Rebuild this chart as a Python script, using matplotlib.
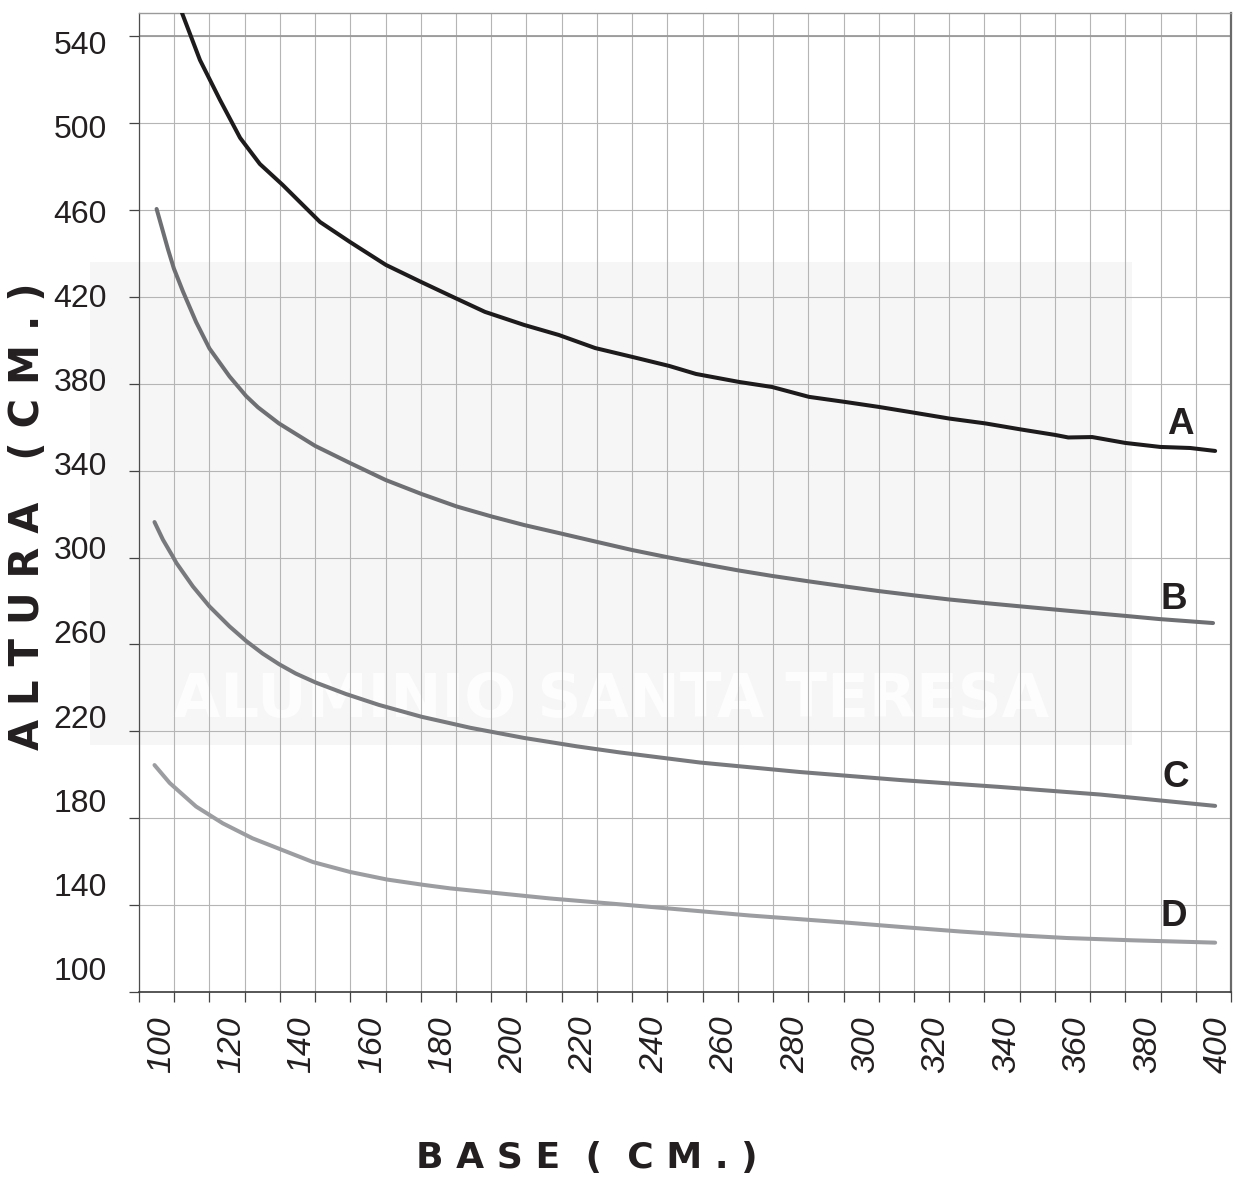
import matplotlib
matplotlib.use("Agg")
import matplotlib.pyplot as plt
import numpy as np
from matplotlib.patches import Rectangle

# ---------------- data ----------------
x_ticks = [100, 120, 140, 160, 180, 200, 220, 240, 260, 280, 300, 320, 340, 360, 380, 400]
y_ticks = [100, 140, 180, 220, 260, 300, 340, 380, 420, 460, 500, 540]

a_x = [105.9, 111.0, 116.7, 122.4, 128.0, 134.5, 145.1, 153.6, 163.8, 173.8, 182.8, 191.9,
       203.0, 212.9, 223.2, 233.7, 244.2, 251.8, 264.0, 273.4, 283.9, 294.1, 303.8, 314.0,
       323.7, 333.9, 344.1, 353.8, 357.5, 364.3, 373.7, 383.6, 392.1, 399.2]
a_y = [554.2, 531.8, 512.8, 494.8, 482.4, 472.4, 454.8, 445.3, 434.4, 426.3, 419.2, 412.1,
       405.9, 401.1, 394.9, 390.7, 386.4, 382.6, 378.8, 376.4, 371.7, 369.3, 366.9, 364.1,
       361.4, 359.1, 356.2, 353.6, 352.4, 352.6, 349.8, 347.9, 347.4, 346.0]

b_x = [98.7, 100.5, 101.9, 103.6, 106.2, 109.9, 113.7, 119.4, 124.1, 127.5, 133.4, 143.7,
       153.3, 163.7, 173.8, 183.9, 193.9, 203.0, 213.1, 223.1, 233.7, 244.0, 253.7, 263.9,
       273.4, 283.9, 294.1, 303.7, 314.0, 323.7, 333.9, 344.1, 353.8, 364.3, 373.7, 383.3, 398.6]
b_y = [461.0, 450.3, 442.0, 432.7, 421.7, 407.3, 394.7, 381.4, 372.1, 366.7, 359.1, 348.4,
       340.5, 332.2, 325.6, 319.6, 314.8, 310.8, 306.9, 303.0, 298.9, 295.4, 292.3, 289.2,
       286.6, 284.0, 281.6, 279.4, 277.3, 275.4, 273.7, 272.1, 270.6, 269.0, 267.6, 266.1, 264.2]

c_x = [98.1, 100.5, 103.3, 104.3, 109.0, 113.7, 119.4, 124.1, 128.8, 133.5, 138.2, 143.9,
       152.4, 161.8, 173.8, 187.8, 203.0, 218.0, 230.2, 253.0, 281.3, 309.7, 338.1, 366.5, 399.2]
c_y = [312.2, 303.8, 295.8, 292.8, 281.6, 272.1, 262.6, 255.7, 249.7, 244.6, 240.2, 235.9,
       230.5, 225.3, 219.7, 214.4, 209.6, 205.6, 202.7, 197.9, 193.4, 189.6, 186.3, 182.7, 177.3]

d_x = [98.1, 102.4, 109.9, 117.5, 125.9, 143.1, 153.6, 164.1, 174.3, 182.0, 210.4,
       238.8, 267.1, 295.5, 309.7, 326.8, 343.0, 357.1, 375.9, 399.2]
d_y = [196.7, 188.2, 177.0, 169.0, 161.9, 150.6, 145.9, 142.3, 139.8, 138.1, 133.3,
       129.3, 125.2, 121.7, 119.8, 117.6, 115.8, 114.5, 113.4, 112.3]

series_names = ["A", "B", "C", "D"]

# ---------------- figure ----------------
W, H = 1235, 1177
fig = plt.figure(figsize=(W / 100, H / 100), dpi=100)


def fx(px):
    return px / W


def fy(py):
    return 1 - py / H


ax = fig.add_axes([fx(139), fy(992.3), (1231 - 139) / W, (992.3 - 13.3) / H])
ax.set_facecolor("none")

# faint watermark behind the chart
fig.patches.append(Rectangle((fx(90), fy(745)), (1132 - 90) / W, (745 - 262) / H,
                             transform=fig.transFigure, facecolor="#f6f6f6",
                             edgecolor="none", zorder=-2))
fig.text(fx(611), fy(700), "ALUMINIO SANTA TERESA", color="#fdfdfd", fontsize=44,
         fontweight="bold", ha="center", va="center", zorder=-1, family="DejaVu Sans")

xmin, xmax = 93.7, 403.7
ymin, ymax = 88.7, 554.0
ax.set_xlim(xmin, xmax)
ax.set_ylim(ymin, ymax)

grid_x = np.linspace(xmin, xmax, 32)
grid_y = np.linspace(ymin, ymin + 11 * 41.33, 12)

ax.set_xticks(x_ticks)
ax.set_xticklabels([str(v) for v in x_ticks], rotation=90, fontstyle="italic",
                   fontsize=24.5, family="Liberation Sans", color="#231f20")
ax.set_yticks(y_ticks)
ax.set_yticklabels([str(v) for v in y_ticks], fontsize=23, family="Liberation Sans",
                   color="#231f20")
ax.set_xticks(grid_x, minor=True)
ax.set_yticks(grid_y, minor=True)

ax.tick_params(axis="x", which="major", length=0, pad=17.5)
ax.tick_params(axis="y", which="major", length=0, pad=23)
ax.tick_params(axis="both", which="minor", length=7.2, width=0.9, color="#444444",
               direction="out")
ax.grid(False)
ax.grid(which="minor", color="#b5b5b5", lw=0.8)
ax.axhline(grid_y[-1], color="#9a9a9a", lw=1.3, zorder=1)
ax.set_axisbelow(True)

ax.spines["left"].set_color("#4d4d4d")
ax.spines["left"].set_linewidth(0.9)
ax.spines["bottom"].set_color("#3a3a3a")
ax.spines["bottom"].set_linewidth(1.2)
ax.spines["top"].set_color("#9a9a9a")
ax.spines["top"].set_linewidth(1.0)
ax.spines["right"].set_color("#6a6a6a")
ax.spines["right"].set_linewidth(1.6)

colors = ["#1e1b1c", "#6e6f72", "#78797c", "#9c9da0"]
for xs, ys, col in zip([a_x, b_x, c_x, d_x], [a_y, b_y, c_y, d_y], colors):
    ax.plot(xs, ys, color=col, lw=2.9, solid_capstyle="round",
            solid_joinstyle="round", zorder=3)

label_pos = [(389.2, 358.6), (387.5, 275.2), (388.1, 191.0), (387.5, 124.5)]
for name, (lx, ly) in zip(series_names, label_pos):
    ax.text(lx, ly, name, fontsize=26.5, fontweight="bold", color="#231f20",
            family=["Liberation Sans Narrow", "DejaVu Sans Condensed", "Liberation Sans"],
            ha="center", va="center", zorder=4)

fig.text(fx(28), fy(516), "A L T U R A   ( C M . )", rotation=90, ha="center",
         va="center", fontsize=28.9, fontweight="bold", color="#231f20",
         family="DejaVu Sans")
fig.text(fx(586.5), fy(1168), "B A S E  (  C M . )", ha="center", va="baseline",
         fontsize=26, fontweight="bold", color="#231f20", family="DejaVu Sans")

fig.savefig("out.png", dpi=100)
